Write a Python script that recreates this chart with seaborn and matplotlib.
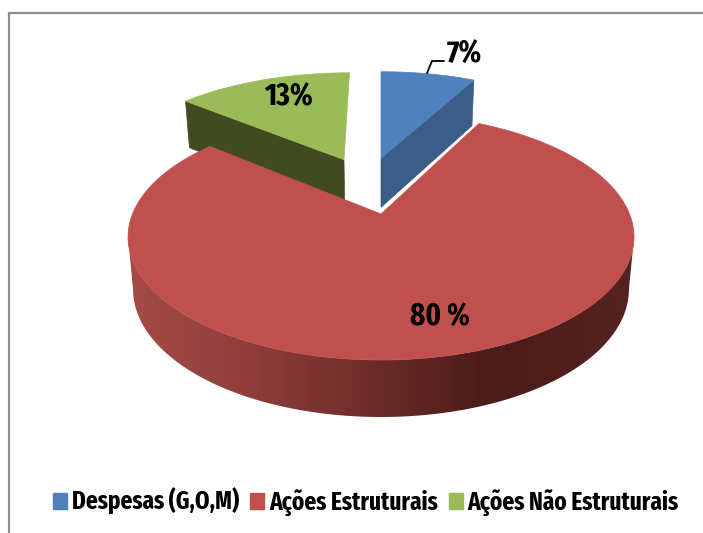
import numpy as np
import matplotlib
matplotlib.use('Agg')
import matplotlib.pyplot as plt
from matplotlib import font_manager
from matplotlib.colors import LinearSegmentedColormap
from matplotlib.patches import Patch, Polygon
import seaborn as sns

categories = ['Despesas (G,O,M)', 'Ações Estruturais', 'Ações Não Estruturais']
slice_shares = [7.6, 78.4, 14.0]
value_labels = ['7%', '80 %', '13%']
top_colors = ['#4F81BD', '#C0504D', '#9BBB59']
wall_colors = ['#3B5D88', None, '#414A20']

installed = {f.name for f in font_manager.fontManager.ttflist}
if 'Fira Sans Extra Condensed' in installed:
    FONT = ['Fira Sans Extra Condensed', 'DejaVu Sans']
    legend_size, label_size = 18.2, 22.5
else:
    FONT = ['Liberation Sans', 'DejaVu Sans']
    legend_size, label_size = 14.3, 17

sns.set_theme(style='white')
plt.rcParams['font.family'] = FONT
plt.rcParams['font.weight'] = 'bold'

CX, CY = 381, 214
K, A, B = 0.187, 118.7, 248.5
DEPTH = 51.4
explode = [(0.0, 0.515), (0.0, 0.0), (-0.163, 0.50)]
radius = [1.03, 1.0, 1.03]


def project(x, y, z=0.0):
    # simple perspective, y goes away from the viewer, z goes down
    w = 1 + K * y
    sx = CX + B * x / w * (1 - 0.02 * z)
    sy = CY - A * y / w + z * DEPTH / np.sqrt(w)
    return sx, sy


def slice_edge(start, end, r, off, n=120):
    t = np.radians(np.linspace(start, end, n))
    return off[0] + r * np.sin(t), off[1] + r * np.cos(t)


fig = plt.figure(figsize=(7.03, 5.33), dpi=100)
ax = fig.add_axes([0, 0, 1, 1])
ax.axis('off')

# chart frame
ax.plot([8.5, 8.5, 703], [533, 13, 13], color='#8E8E8E', lw=1.6, solid_joinstyle='miter')

angles = np.cumsum([0] + slice_shares) / sum(slice_shares) * 360
spans = list(zip(angles[:-1], angles[1:]))

# green and blue first, red sits in front of their walls
for i in [2, 0]:
    start, end = spans[i]
    off = explode[i]
    cut = start if i == 2 else end
    ex, ey = slice_edge(cut, cut, radius[i], off, n=1)
    xs = np.array([off[0], ex[0]])
    ys = np.array([off[1], ey[0]])
    top_x, top_y = project(xs, ys)
    low_x, low_y = project(xs, ys, 1.0)
    ax.fill(np.r_[top_x, low_x[::-1]], np.r_[top_y, low_y[::-1]], color=wall_colors[i], lw=0.5)
    ax_, ay_ = slice_edge(start, end, radius[i], off)
    px, py = project(np.r_[off[0], ax_], np.r_[off[1], ay_])
    ax.fill(px, py, color=top_colors[i], lw=0.5)

# outer wall of the red slice, one gradient image clipped to the wall shape
# 101 and 259 degrees are where the ellipse is widest, so the sides stay straight
wall_cmap = LinearSegmentedColormap.from_list(
    'wall', [(0, '#A54B47'), (0.25, '#8E3D39'), (0.72, '#4A1B19'), (1, '#562320')])
wx, wy = slice_edge(101, 259, 1.0, explode[1], n=241)
top_x, top_y = project(wx, wy)
low_x, low_y = project(wx, wy, 1.0)
outline = Polygon(np.c_[np.r_[top_x, low_x[::-1]], np.r_[top_y, low_y[::-1]]],
                  closed=True, transform=ax.transData, fc='none', ec='none')
ax.add_patch(outline)
img = ax.imshow(np.linspace(0, 1, 512)[None, :], cmap=wall_cmap, aspect='auto',
                extent=(127, 634, 430, 230), zorder=1.5)
img.set_clip_path(outline)

start, end = spans[1]
rx, ry = slice_edge(start, end, radius[1], explode[1], n=360)
px, py = project(np.r_[0, rx], np.r_[0, ry])
ax.fill(px, py, color=top_colors[1], lw=0.5, zorder=2)

ax.set_xlim(0, 703)
ax.set_ylim(533, 0)

# value labels
ax.text(464, 55, value_labels[0], fontsize=label_size, ha='center', va='center', color='black')
ax.text(440, 318, value_labels[1], fontsize=label_size, ha='center', va='center', color='black', zorder=3)
ax.text(288, 98, value_labels[2], fontsize=label_size, ha='center', va='center', color='black')
ax.plot([427, 432, 444], [73, 61, 61], color='black', lw=1.3)

handles = [Patch(color=c, label=n) for c, n in zip(top_colors, categories)]
ax.legend(handles=handles, ncol=3, loc='center', bbox_to_anchor=(366 / 703, 1 - 502 / 533),
          frameon=False, fontsize=legend_size, handlelength=0.55, handleheight=0.55,
          handletextpad=0.2, columnspacing=0.43, borderpad=0, labelcolor='black')

fig.savefig('out.png', dpi=100)
